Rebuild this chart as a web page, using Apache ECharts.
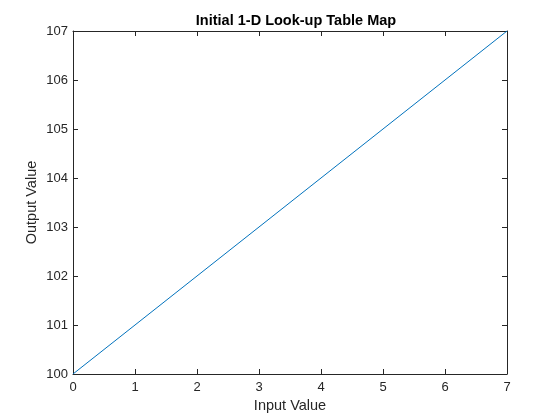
<!DOCTYPE html>
<html>
<head>
<meta charset="utf-8">
<script src="https://cdn.jsdelivr.net/npm/echarts@6/dist/echarts.min.js"></script>
<style>
  html, body { margin: 0; padding: 0; background: #fff; }
  #chart { width: 560px; height: 420px; }
</style>
</head>
<body>
<div id="chart"></div>
<script>
// look-up table: input breakpoints and output values
const inputValues = [0, 1, 2, 3, 4, 5, 6, 7]
const outputValues = [100, 101, 102, 103, 104, 105, 106, 107]

const axisColor = '#262626'
const font = 'Liberation Sans, Arial, sans-serif'

const chart = echarts.init(document.getElementById('chart'))

const baseX = {
  type: 'value', min: 0, max: 7, interval: 1,
  axisLine: { show: true, onZero: false, lineStyle: { color: axisColor, width: 1 } },
  axisTick: { show: true, inside: true, length: 5, lineStyle: { color: axisColor } },
  splitLine: { show: false }
}
const baseY = {
  type: 'value', min: 100, max: 107, interval: 1,
  axisLine: { show: true, onZero: false, lineStyle: { color: axisColor, width: 1 } },
  axisTick: { show: true, inside: true, length: 5, lineStyle: { color: axisColor } },
  splitLine: { show: false }
}

const option = {
  animation: false,
  title: {
    text: 'Initial 1-D Look-up Table Map',
    left: 291, top: 8, textAlign: 'center',
    textStyle: { fontFamily: font, fontSize: 14.5, fontWeight: 'bold', color: '#000' }
  },
  grid: { left: 73, right: 53, top: 31, bottom: 46 },
  xAxis: [
    Object.assign({}, baseX, {
      position: 'bottom',
      name: 'Input Value', nameLocation: 'middle', nameGap: 23,
      nameTextStyle: { fontFamily: font, fontSize: 14.5, color: axisColor },
      axisLabel: { fontFamily: font, fontSize: 13, color: axisColor, margin: 7 }
    }),
    Object.assign({}, baseX, { position: 'top', axisLabel: { show: false } })
  ],
  yAxis: [
    Object.assign({}, baseY, {
      position: 'left',
      name: 'Output Value', nameLocation: 'middle', nameGap: 34,
      nameMoveOverlap: false,
      nameTextStyle: { fontFamily: font, fontSize: 14.5, color: axisColor },
      axisLabel: { fontFamily: font, fontSize: 13, color: axisColor, margin: 5 }
    }),
    Object.assign({}, baseY, { position: 'right', axisLabel: { show: false } })
  ],
  series: [{
    type: 'line',
    data: inputValues.map((x, i) => [x, outputValues[i]]),
    showSymbol: false,
    lineStyle: { color: '#0072BD', width: 1 },
    clip: false
  }]
}
chart.setOption(option)
</script>
</body>
</html>
